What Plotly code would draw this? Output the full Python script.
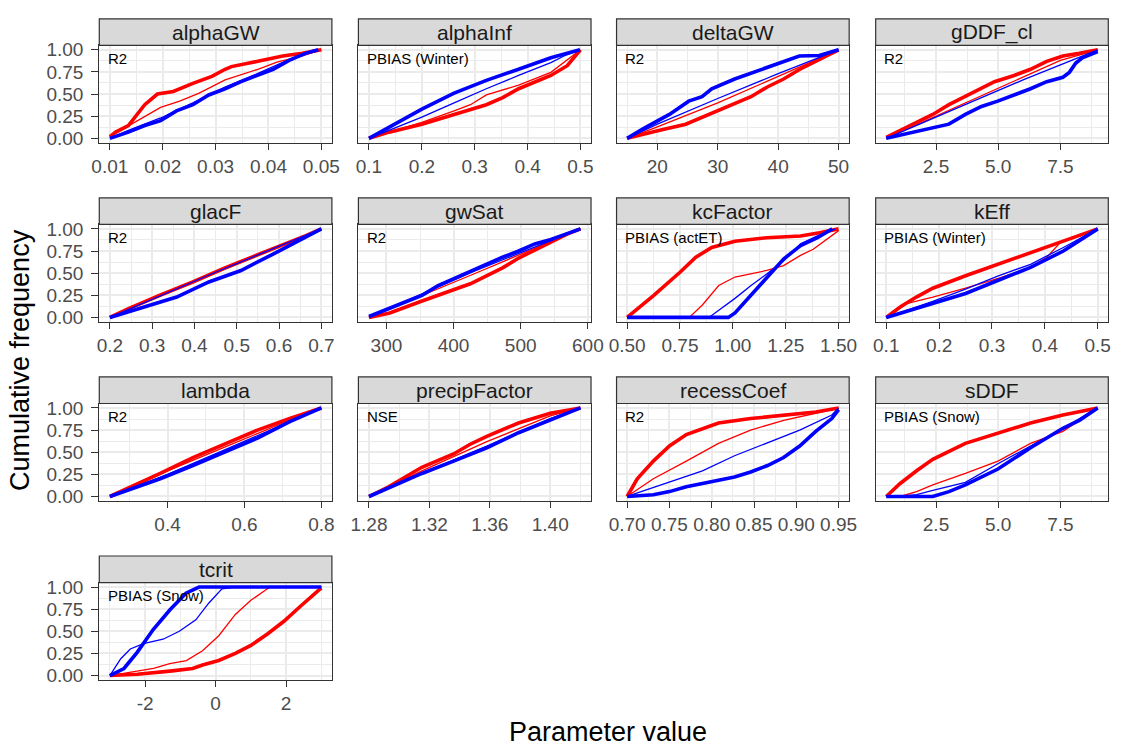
import plotly.graph_objects as go

# ---------------- DATA ----------------
PARAMS = ["alphaGW", "alphaInf", "deltaGW", "gDDF_cl",
          "glacF", "gwSat", "kcFactor", "kEff",
          "lambda", "precipFactor", "recessCoef", "sDDF", "tcrit"]
METRICS = ["R2", "PBIAS (Winter)", "R2", "R2",
           "R2", "R2", "PBIAS (actET)", "PBIAS (Winter)",
           "R2", "NSE", "R2", "PBIAS (Snow)", "PBIAS (Snow)"]
PARAM_MIN = [0.01, 0.1, 15, 0.5, 0.2, 274, 0.5, 0.1, 0.25, 1.28, 0.70, 0.5, -3]
PARAM_MAX = [0.05, 0.5, 50, 9.0, 0.7, 589, 1.5, 0.5, 0.80, 1.42, 0.95, 9.0, 3]

# x tick labels per panel
alphaGW_ticks = ["0.01", "0.02", "0.03", "0.04", "0.05"]
alphaInf_ticks = ["0.1", "0.2", "0.3", "0.4", "0.5"]
deltaGW_ticks = ["20", "30", "40", "50"]
gDDF_cl_ticks = ["2.5", "5.0", "7.5"]
glacF_ticks = ["0.2", "0.3", "0.4", "0.5", "0.6", "0.7"]
gwSat_ticks = ["300", "400", "500", "600"]
kcFactor_ticks = ["0.50", "0.75", "1.00", "1.25", "1.50"]
kEff_ticks = ["0.1", "0.2", "0.3", "0.4", "0.5"]
lambda_ticks = ["0.4", "0.6", "0.8"]
precipFactor_ticks = ["1.28", "1.32", "1.36", "1.40"]
recessCoef_ticks = ["0.70", "0.75", "0.80", "0.85", "0.90", "0.95"]
sDDF_ticks = ["2.5", "5.0", "7.5"]
tcrit_ticks = ["-2", "0", "2"]
Y_TICKS = ["0.00", "0.25", "0.50", "0.75", "1.00"]

# minor gridline positions per panel
alphaGW_minor = [0.015, 0.025, 0.035, 0.045]
alphaInf_minor = [0.15, 0.25, 0.35, 0.45]
deltaGW_minor = [15, 25, 35, 45]
gDDF_cl_minor = [1.25, 3.75, 6.25, 8.75]
glacF_minor = [0.25, 0.35, 0.45, 0.55, 0.65]
gwSat_minor = [350, 450, 550]
kcFactor_minor = [0.625, 0.875, 1.125, 1.375]
kEff_minor = [0.15, 0.25, 0.35, 0.45]
lambda_minor = [0.3, 0.5, 0.7]
precipFactor_minor = [1.30, 1.34, 1.38, 1.42]
recessCoef_minor = [0.725, 0.775, 0.825, 0.875, 0.925]
sDDF_minor = [1.25, 3.75, 6.25, 8.75]
tcrit_minor = [-3, -1, 1, 3]
Y_MINOR = [0.125, 0.375, 0.625, 0.875]

# ---- curves: red thick / red thin / blue thick / blue thin ----
alphaGW_red_thick_x = [0.0100, 0.0111, 0.0135, 0.0166, 0.0190, 0.0220, 0.0257, 0.0293, 0.0318, 0.0330, 0.0380, 0.0427, 0.0464, 0.0500]
alphaGW_red_thick_y = [0.02, 0.07, 0.145, 0.38, 0.50, 0.53, 0.62, 0.70, 0.78, 0.81, 0.87, 0.93, 0.96, 1.00]
alphaGW_red_thin_x = [0.0100, 0.0135, 0.0166, 0.0196, 0.0232, 0.0269, 0.0318, 0.0380, 0.0416, 0.0464, 0.0500]
alphaGW_red_thin_y = [0.02, 0.14, 0.24, 0.35, 0.42, 0.51, 0.66, 0.78, 0.86, 0.93, 1.00]
alphaGW_blue_thick_x = [0.0100, 0.0135, 0.0166, 0.0196, 0.0226, 0.0257, 0.0287, 0.0318, 0.0348, 0.0379, 0.0409, 0.0439, 0.0470, 0.0494]
alphaGW_blue_thick_y = [0.00, 0.07, 0.145, 0.20, 0.31, 0.38, 0.49, 0.56, 0.64, 0.71, 0.78, 0.88, 0.96, 1.00]
alphaGW_blue_thin_x = [0.0100, 0.0135, 0.0196, 0.0257, 0.0318, 0.0379, 0.0439, 0.0494]
alphaGW_blue_thin_y = [0.00, 0.09, 0.23, 0.40, 0.58, 0.73, 0.89, 1.00]

alphaInf_red_thick_x = [0.100, 0.138, 0.200, 0.261, 0.322, 0.353, 0.383, 0.444, 0.475, 0.500]
alphaInf_red_thick_y = [0.00, 0.07, 0.16, 0.27, 0.38, 0.46, 0.56, 0.71, 0.82, 1.00]
alphaInf_red_thin_x = [0.100, 0.200, 0.261, 0.292, 0.322, 0.383, 0.444, 0.475, 0.500]
alphaInf_red_thin_y = [0.00, 0.18, 0.31, 0.38, 0.49, 0.60, 0.745, 0.89, 1.00]
alphaInf_blue_thick_x = [0.100, 0.138, 0.200, 0.261, 0.322, 0.383, 0.444, 0.499]
alphaInf_blue_thick_y = [0.00, 0.127, 0.33, 0.51, 0.655, 0.78, 0.91, 1.00]
alphaInf_blue_thin_x = [0.100, 0.200, 0.261, 0.322, 0.383, 0.444, 0.469, 0.499]
alphaInf_blue_thin_y = [0.00, 0.24, 0.40, 0.56, 0.71, 0.855, 0.93, 1.00]

deltaGW_red_thick_x = [15.0, 17.7, 20.4, 24.7, 27.4, 30.1, 32.8, 35.5, 38.2, 40.9, 43.6, 46.3, 50.0]
deltaGW_red_thick_y = [0.00, 0.04, 0.09, 0.16, 0.24, 0.31, 0.40, 0.47, 0.58, 0.67, 0.78, 0.87, 1.00]
deltaGW_red_thin_x = [15.0, 20.0, 30.0, 40.0, 50.0]
deltaGW_red_thin_y = [0.00, 0.13, 0.40, 0.70, 1.00]
deltaGW_blue_thick_x = [15.0, 17.7, 22.0, 25.2, 27.4, 29.0, 32.8, 36.5, 40.3, 43.5, 46.8, 49.0, 50.0]
deltaGW_blue_thick_y = [0.00, 0.11, 0.27, 0.42, 0.47, 0.56, 0.67, 0.76, 0.855, 0.93, 0.935, 0.98, 1.00]
deltaGW_blue_thin_x = [15.0, 20.0, 30.0, 40.0, 50.0]
deltaGW_blue_thin_y = [0.00, 0.16, 0.45, 0.73, 1.00]

gDDF_cl_red_thick_x = [0.50, 1.06, 1.72, 2.37, 3.02, 3.68, 4.33, 4.85, 5.64, 6.30, 6.95, 7.60, 8.26, 9.00]
gDDF_cl_red_thick_y = [0.01, 0.09, 0.18, 0.27, 0.38, 0.47, 0.56, 0.64, 0.71, 0.78, 0.87, 0.93, 0.96, 1.00]
gDDF_cl_red_thin_x = [0.50, 2.50, 5.00, 7.50, 9.00]
gDDF_cl_red_thin_y = [0.00, 0.25, 0.56, 0.88, 1.00]
gDDF_cl_blue_thick_x = [0.50, 1.06, 1.72, 2.37, 3.02, 3.68, 4.33, 4.98, 5.64, 6.30, 6.95, 7.60, 7.86, 8.12, 8.38, 8.90, 9.00]
gDDF_cl_blue_thick_y = [0.00, 0.036, 0.07, 0.11, 0.16, 0.27, 0.36, 0.42, 0.49, 0.56, 0.64, 0.69, 0.745, 0.85, 0.91, 0.96, 0.98]
gDDF_cl_blue_thin_x = [0.50, 3.00, 6.00, 9.00]
gDDF_cl_blue_thin_y = [0.00, 0.30, 0.66, 1.00]

glacF_red_thick_x = [0.200, 0.244, 0.320, 0.396, 0.472, 0.548, 0.624, 0.662, 0.700]
glacF_red_thick_y = [0.00, 0.10, 0.255, 0.40, 0.56, 0.70, 0.85, 0.92, 1.00]
glacF_red_thin_x = [0.200, 0.450, 0.700]
glacF_red_thin_y = [0.00, 0.50, 1.00]
glacF_blue_thick_x = [0.200, 0.244, 0.297, 0.358, 0.434, 0.510, 0.586, 0.662, 0.700]
glacF_blue_thick_y = [0.00, 0.067, 0.14, 0.23, 0.40, 0.53, 0.715, 0.90, 1.00]
glacF_blue_thin_x = [0.200, 0.450, 0.700]
glacF_blue_thin_y = [0.00, 0.51, 1.00]

gwSat_red_thick_x = [274, 305, 353, 401, 425, 449, 473, 497, 545, 569, 589]
gwSat_red_thick_y = [0.00, 0.05, 0.185, 0.31, 0.38, 0.47, 0.56, 0.67, 0.845, 0.94, 1.00]
gwSat_red_thin_x = [274, 430, 589]
gwSat_red_thin_y = [0.00, 0.49, 1.00]
gwSat_blue_thick_x = [274, 305, 353, 377, 401, 425, 449, 473, 497, 521, 545, 589]
gwSat_blue_thick_y = [0.01, 0.10, 0.25, 0.36, 0.44, 0.53, 0.60, 0.68, 0.75, 0.83, 0.88, 1.00]
gwSat_blue_thin_x = [274, 430, 589]
gwSat_blue_thin_y = [0.00, 0.52, 1.00]

kcFactor_red_thick_x = [0.500, 0.626, 0.750, 0.825, 0.900, 1.010, 1.160, 1.320, 1.410, 1.500]
kcFactor_red_thick_y = [0.00, 0.25, 0.51, 0.68, 0.79, 0.86, 0.90, 0.92, 0.955, 1.00]
kcFactor_red_thin_x = [0.500, 0.794, 0.856, 0.933, 1.010, 1.086, 1.160, 1.240, 1.320, 1.380, 1.440, 1.500]
kcFactor_red_thin_y = [0.00, 0.00, 0.14, 0.36, 0.456, 0.49, 0.53, 0.585, 0.70, 0.77, 0.88, 0.98]
kcFactor_blue_thick_x = [0.500, 0.979, 1.010, 1.086, 1.160, 1.240, 1.320, 1.400, 1.470]
kcFactor_blue_thick_y = [0.00, 0.00, 0.05, 0.25, 0.456, 0.66, 0.81, 0.90, 1.00]
kcFactor_blue_thin_x = [0.500, 0.887, 1.010, 1.086, 1.160, 1.240, 1.320, 1.400, 1.485]
kcFactor_blue_thin_y = [0.00, 0.00, 0.215, 0.36, 0.49, 0.64, 0.83, 0.92, 1.00]

kEff_red_thick_x = [0.100, 0.127, 0.157, 0.188, 0.250, 0.312, 0.373, 0.435, 0.500]
kEff_red_thick_y = [0.00, 0.12, 0.23, 0.33, 0.47, 0.60, 0.73, 0.86, 1.00]
kEff_red_thin_x = [0.100, 0.140, 0.188, 0.250, 0.312, 0.373, 0.404, 0.429, 0.500]
kEff_red_thin_y = [0.00, 0.16, 0.23, 0.33, 0.44, 0.565, 0.68, 0.845, 1.00]
kEff_blue_thick_x = [0.100, 0.188, 0.250, 0.312, 0.373, 0.435, 0.500]
kEff_blue_thick_y = [0.00, 0.16, 0.27, 0.42, 0.565, 0.75, 1.00]
kEff_blue_thin_x = [0.100, 0.188, 0.250, 0.312, 0.373, 0.435, 0.500]
kEff_blue_thin_y = [0.00, 0.18, 0.32, 0.47, 0.60, 0.79, 1.00]

lambda_red_thick_x = [0.250, 0.297, 0.381, 0.466, 0.550, 0.634, 0.718, 0.800]
lambda_red_thick_y = [0.00, 0.09, 0.26, 0.44, 0.59, 0.75, 0.88, 1.00]
lambda_red_thin_x = [0.250, 0.400, 0.550, 0.700, 0.800]
lambda_red_thin_y = [0.00, 0.29, 0.56, 0.83, 1.00]
lambda_blue_thick_x = [0.250, 0.381, 0.466, 0.550, 0.634, 0.718, 0.800]
lambda_blue_thick_y = [0.00, 0.20, 0.35, 0.51, 0.66, 0.845, 1.00]
lambda_blue_thin_x = [0.250, 0.400, 0.550, 0.700, 0.800]
lambda_blue_thin_y = [0.00, 0.25, 0.53, 0.81, 1.00]

precipFactor_red_thick_x = [1.280, 1.293, 1.315, 1.336, 1.347, 1.358, 1.379, 1.400, 1.420]
precipFactor_red_thick_y = [0.00, 0.11, 0.33, 0.48, 0.59, 0.68, 0.83, 0.94, 1.00]
precipFactor_red_thin_x = [1.280, 1.315, 1.358, 1.400, 1.420]
precipFactor_red_thin_y = [0.00, 0.29, 0.62, 0.91, 1.00]
precipFactor_blue_thick_x = [1.280, 1.315, 1.336, 1.358, 1.379, 1.400, 1.420]
precipFactor_blue_thick_y = [0.00, 0.26, 0.40, 0.55, 0.72, 0.86, 1.00]
precipFactor_blue_thin_x = [1.280, 1.315, 1.358, 1.400, 1.420]
precipFactor_blue_thin_y = [0.00, 0.26, 0.57, 0.88, 1.00]

recessCoef_red_thick_x = [0.700, 0.712, 0.731, 0.750, 0.770, 0.789, 0.808, 0.846, 0.885, 0.923, 0.950]
recessCoef_red_thick_y = [0.00, 0.20, 0.40, 0.57, 0.70, 0.77, 0.83, 0.88, 0.92, 0.955, 1.00]
recessCoef_red_thin_x = [0.700, 0.731, 0.770, 0.808, 0.846, 0.885, 0.923, 0.950]
recessCoef_red_thin_y = [0.00, 0.20, 0.40, 0.60, 0.75, 0.86, 0.94, 1.00]
recessCoef_blue_thick_x = [0.700, 0.731, 0.750, 0.770, 0.789, 0.808, 0.827, 0.846, 0.866, 0.885, 0.904, 0.923, 0.942, 0.950]
recessCoef_blue_thick_y = [0.00, 0.02, 0.055, 0.11, 0.147, 0.18, 0.22, 0.276, 0.35, 0.44, 0.57, 0.735, 0.88, 0.98]
recessCoef_blue_thin_x = [0.700, 0.750, 0.789, 0.827, 0.866, 0.904, 0.942, 0.950]
recessCoef_blue_thin_y = [0.00, 0.165, 0.29, 0.46, 0.61, 0.75, 0.92, 1.00]

sDDF_red_thick_x = [0.50, 1.06, 1.72, 2.37, 3.68, 4.99, 6.30, 7.60, 9.00]
sDDF_red_thick_y = [0.00, 0.147, 0.29, 0.42, 0.60, 0.72, 0.83, 0.92, 1.00]
sDDF_red_thin_x = [0.50, 1.06, 1.72, 2.37, 3.68, 4.99, 6.30, 7.60, 8.26, 9.00]
sDDF_red_thin_y = [0.00, 0.00, 0.055, 0.13, 0.26, 0.40, 0.60, 0.735, 0.86, 1.00]
sDDF_blue_thick_x = [0.50, 2.37, 3.02, 3.68, 4.99, 6.30, 7.60, 8.26, 9.00]
sDDF_blue_thick_y = [0.00, 0.00, 0.055, 0.13, 0.31, 0.55, 0.77, 0.86, 1.00]
sDDF_blue_thin_x = [0.50, 1.06, 1.72, 2.37, 3.68, 4.99, 6.30, 7.60, 9.00]
sDDF_blue_thin_y = [0.00, 0.00, 0.02, 0.07, 0.16, 0.37, 0.57, 0.77, 1.00]

tcrit_red_thick_x = [-3.00, -2.22, -1.30, -0.65, -0.37, 0.09, 0.56, 1.00, 1.47, 1.93, 2.40, 3.00]
tcrit_red_thick_y = [0.00, 0.015, 0.05, 0.08, 0.12, 0.17, 0.25, 0.34, 0.47, 0.61, 0.78, 0.99]
tcrit_red_thin_x = [-3.00, -2.24, -1.76, -1.30, -0.83, -0.37, 0.09, 0.56, 1.00, 1.47, 1.57, 3.00]
tcrit_red_thin_y = [0.00, 0.044, 0.08, 0.136, 0.17, 0.28, 0.45, 0.69, 0.85, 0.98, 1.00, 1.00]
tcrit_blue_thick_x = [-3.00, -2.60, -2.23, -1.77, -1.30, -0.84, -0.47, 3.00]
tcrit_blue_thick_y = [0.00, 0.08, 0.26, 0.52, 0.74, 0.93, 1.00, 1.00]
tcrit_blue_thin_x = [-3.00, -2.87, -2.69, -2.42, -2.05, -1.49, -1.03, -0.56, -0.19, 0.18, 0.56, 3.00]
tcrit_blue_thin_y = [0.00, 0.08, 0.19, 0.30, 0.36, 0.41, 0.50, 0.63, 0.82, 0.98, 1.00, 1.00]

# ---------------- LAYOUT / STYLE ----------------
W, H = 1137, 747
COL_X0 = [93, 357, 620, 884]
PANEL_W = 237
ROW_TOP = [40, 222, 404, 586]
PANEL_H = 99
STRIP_H = 27
FONT = "Arial, Liberation Sans, sans-serif"
RED, BLUE = "#FF0000", "#0000FF"
THICK, THIN = 3.6, 1.3
GRID = "#EBEBEB"
BORDER = "#333333"
TICKFONT = dict(family=FONT, size=19, color="#4D4D4D")

g = globals()
fig = go.Figure()
layout = dict(width=W, height=H, margin=dict(l=0, r=0, t=0, b=0),
              paper_bgcolor="white", plot_bgcolor="white", showlegend=False)
shapes, annotations = [], []

for k, name in enumerate(PARAMS):
    row, col = divmod(k, 4)
    n = "" if k == 0 else str(k + 1)
    x0 = COL_X0[col]
    top = ROW_TOP[row]
    xd = [x0 / W, (x0 + PANEL_W) / W]
    yd = [1 - (top + PANEL_H) / H, 1 - top / H]
    lo, hi = PARAM_MIN[k], PARAM_MAX[k]
    pad = 0.05 * (hi - lo)
    ticktext = g[name + "_ticks"]
    tickvals = [float(t) for t in ticktext]
    layout["xaxis" + n] = dict(
        domain=xd, anchor="y" + n, range=[lo - pad, hi + pad],
        tickmode="array", tickvals=tickvals, ticktext=ticktext,
        ticks="outside", ticklen=6, tickwidth=1.2, tickcolor=BORDER,
        tickfont=TICKFONT,
        showgrid=True, gridcolor=GRID, gridwidth=2,
        minor=dict(tickmode="array", tickvals=g[name + "_minor"], showgrid=True,
                   gridcolor=GRID, gridwidth=1, ticks=""),
        showline=True, mirror=True, linecolor=BORDER, linewidth=1.2,
        zeroline=False, fixedrange=True)
    first_col = (col == 0)
    layout["yaxis" + n] = dict(
        domain=yd, anchor="x" + n, range=[-0.05, 1.05],
        tickmode="array", tickvals=[float(t) for t in Y_TICKS], ticktext=Y_TICKS,
        showticklabels=first_col, ticks="outside" if first_col else "",
        ticklen=7, tickwidth=1.2, tickcolor=BORDER, ticklabelstandoff=4,
        tickfont=TICKFONT,
        showgrid=True, gridcolor=GRID, gridwidth=2,
        minor=dict(tickmode="array", tickvals=Y_MINOR, showgrid=True,
                   gridcolor=GRID, gridwidth=1, ticks=""),
        showline=True, mirror=True, linecolor=BORDER, linewidth=1.2,
        zeroline=False, fixedrange=True)

    for cname, colr, wd in (("red_thick", RED, THICK), ("red_thin", RED, THIN),
                            ("blue_thick", BLUE, THICK), ("blue_thin", BLUE, THIN)):
        fig.add_trace(go.Scatter(
            x=g[f"{name}_{cname}_x"], y=g[f"{name}_{cname}_y"], mode="lines",
            line=dict(color=colr, width=wd), xaxis="x" + n, yaxis="y" + n,
            hoverinfo="skip"))

    # strip
    shapes.append(dict(type="rect", xref="paper", yref="paper",
                       x0=xd[0], x1=xd[1], y0=yd[1], y1=1 - (top - STRIP_H) / H,
                       fillcolor="#D9D9D9", line=dict(color=BORDER, width=1.2)))
    annotations.append(dict(text=name, xref="paper", yref="paper",
                            x=(xd[0] + xd[1]) / 2, y=1 - (top - STRIP_H / 2) / H,
                            xanchor="center", yanchor="middle", showarrow=False,
                            font=dict(family=FONT, size=21, color="#1A1A1A")))
    # metric label
    annotations.append(dict(text=METRICS[k], xref="x" + n, yref="y" + n,
                            x=lo, y=0.905, xanchor="left", yanchor="middle",
                            xshift=-4, showarrow=False,
                            font=dict(family=FONT, size=15, color="black")))

annotations.append(dict(text="Parameter value", xref="paper", yref="paper",
                        x=611 / W, y=1 - 738 / H, xanchor="center", yanchor="middle",
                        showarrow=False, font=dict(family=FONT, size=27, color="black")))
annotations.append(dict(text="Cumulative frequency", xref="paper", yref="paper",
                        x=12 / W, y=1 - 360 / H, xanchor="center", yanchor="middle",
                        textangle=-90, showarrow=False,
                        font=dict(family=FONT, size=27, color="black")))

layout["shapes"] = shapes
layout["annotations"] = annotations
fig.update_layout(**layout)
fig.write_html("out.html")
